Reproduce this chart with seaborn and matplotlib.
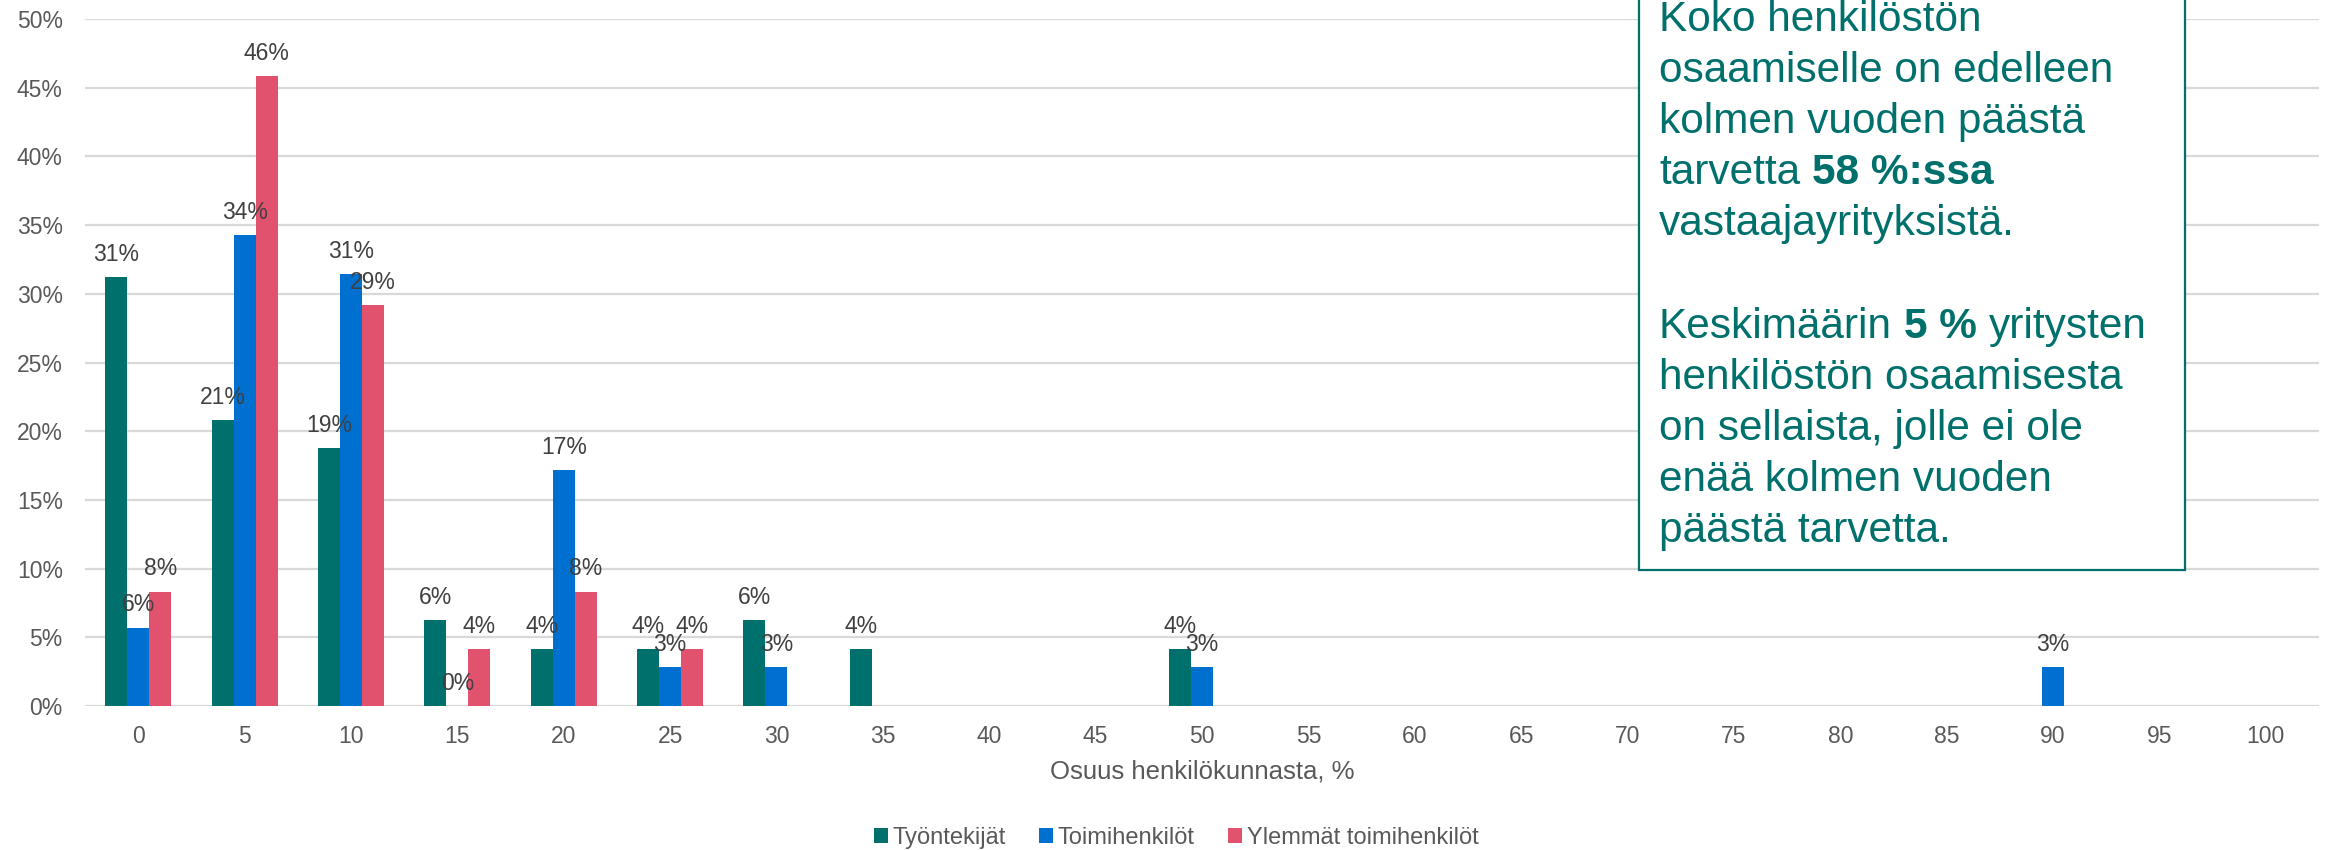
import matplotlib
matplotlib.use("Agg")
import matplotlib.pyplot as plt
import numpy as np
import pandas as pd
import seaborn as sns
from matplotlib.patches import Rectangle
from matplotlib.ticker import FuncFormatter, MultipleLocator

# --- data -------------------------------------------------------------------
categories = [str(v) for v in range(0, 101, 5)]
series = ["Työntekijät", "Toimihenkilöt", "Ylemmät toimihenkilöt"]

tyontekijat = {"0": 31.25, "5": 20.83, "10": 18.75, "15": 6.25, "20": 4.17,
               "25": 4.17, "30": 6.25, "35": 4.17, "50": 4.17}
toimihenkilot = {"0": 5.71, "5": 34.29, "10": 31.43, "15": 0.0, "20": 17.14,
                 "25": 2.86, "30": 2.86, "50": 2.86, "90": 2.86}
ylemmat = {"0": 8.33, "5": 45.83, "10": 29.17, "15": 4.17, "20": 8.33,
           "25": 4.17}

colors = ["#00706C", "#0070D0", "#E0526E"]
teal = "#00706C"

rows = []
for name, values in zip(series, [tyontekijat, toimihenkilot, ylemmat]):
    for cat, val in values.items():
        rows.append({"osuus": cat, "ryhma": name, "arvo": val})
df = pd.DataFrame(rows)

# --- style ------------------------------------------------------------------
sns.set_style("white")
plt.rcParams["font.family"] = ["Liberation Sans", "DejaVu Sans"]

W, H = 2325, 850
fig = plt.figure(figsize=(W / 100, H / 100), dpi=100)
left, right, top, bottom = 85, 2319, 19, 706
ax = fig.add_axes([left / W, 1 - bottom / H, (right - left) / W, (bottom - top) / H])

sns.barplot(data=df, x="osuus", y="arvo", hue="ryhma", order=categories,
            hue_order=series, palette=colors, saturation=1, width=0.62,
            errorbar=None, linewidth=0, ax=ax)

for cont in ax.containers:
    ax.bar_label(cont, labels=[f"{v:.0f}%" for v in cont.datavalues],
                 padding=8, fontsize=16.5, color="#404040")

ax.set_xlim(-0.5, len(categories) - 0.5)
ax.set_ylim(0, 50)
ax.yaxis.set_major_locator(MultipleLocator(5))
ax.yaxis.set_major_formatter(FuncFormatter(lambda v, _: f"{v:.0f}%"))
ax.yaxis.grid(True, color="#D9D9D9", linewidth=1.6)
ax.set_axisbelow(True)
for s in ax.spines.values():
    s.set_visible(False)
ax.tick_params(axis="both", length=0, labelsize=16.5, labelcolor="#595959")
ax.tick_params(axis="x", pad=14)
ax.tick_params(axis="y", pad=16)
ax.set_ylabel("")
ax.set_xlabel("Osuus henkilökunnasta, %", fontsize=18.5, color="#595959")
ax.xaxis.label.set_va("center")
ax.xaxis.set_label_coords(0.5, (bottom - 771) / (bottom - top))

leg = ax.legend(loc="center", bbox_to_anchor=(1176 / W, 1 - 838 / H),
                bbox_transform=fig.transFigure, ncol=3, frameon=False,
                fontsize=17, handlelength=0.6, handleheight=0.6,
                handletextpad=0.2, columnspacing=1.4)
for t in leg.get_texts():
    t.set_color("#595959")

# --- callout box --------------------------------------------------------------
box_l, box_r, box_b = 1639, 2185, 570
fig.add_artist(Rectangle((box_l / W, 1 - box_b / H), (box_r - box_l) / W, 0.9,
                         transform=fig.transFigure, facecolor="white",
                         edgecolor=teal, linewidth=1.6, zorder=5))

lines = [
    [("Koko henkilöstön", "normal")],
    [("osaamiselle on edelleen", "normal")],
    [("kolmen vuoden päästä", "normal")],
    [("tarvetta", "normal"), ("58 %:ssa", "bold")],
    [("vastaajayrityksistä.", "normal")],
    [],
    [("Keskimäärin", "normal"), ("5 %", "bold"), ("yritysten", "normal")],
    [("henkilöstön osaamisesta", "normal")],
    [("on sellaista, jolle ei ole", "normal")],
    [("enää kolmen vuoden", "normal")],
    [("päästä tarvetta.", "normal")],
]
fs_box = 30.5
space_px = 0.278 * fs_box * 100 / 72
for k, parts in enumerate(lines):
    y = 1 - (31 + 51.1 * k) / H
    prev = None
    for txt, weight in parts:
        if prev is None:
            prev = fig.text(1659 / W, y, txt, fontsize=fs_box, fontweight=weight,
                            color=teal, va="baseline", ha="left", zorder=6)
        else:
            prev = fig.add_artist(matplotlib.text.Annotation(
                txt, xy=(1, 0), xycoords=prev, xytext=(space_px, 0),
                textcoords="offset pixels", fontsize=fs_box, fontweight=weight,
                color=teal, va="bottom", ha="left", zorder=6))

fig.savefig("out.png", dpi=100)
